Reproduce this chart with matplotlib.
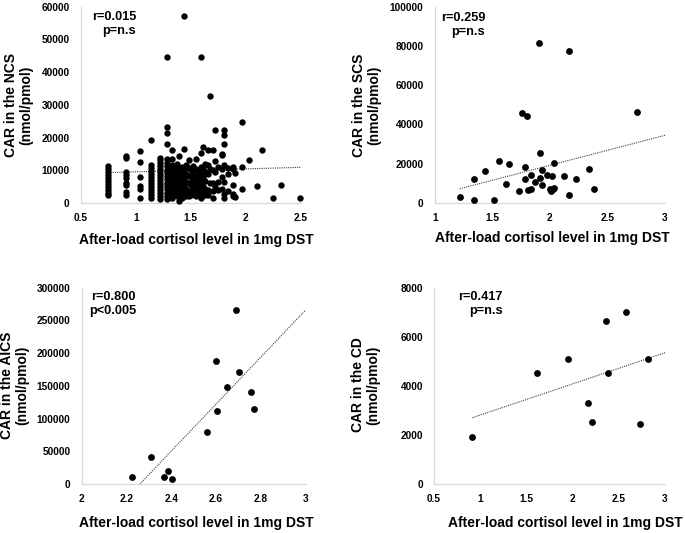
import matplotlib
matplotlib.use("Agg")
import matplotlib.pyplot as plt
import numpy as np

plt.rcParams['font.family'] = ['Liberation Sans', 'DejaVu Sans']
plt.rcParams['font.weight'] = 'bold'

# ---------------- NCS data (grouped by x column) ----------------
ncs_cols = {
    0.75: [11300, 10400, 9500, 8600, 7700, 6800, 5900, 5000, 4100, 3200, 2300],
    0.91: [14300, 13700, 9400, 8500, 7600, 6200, 5400, 3300, 2500],
    1.04: [15800, 12600, 8000, 5200, 4300, 1600],
    1.14: [19400, 11500, 10600, 9700, 8800, 7900, 7000, 6100, 5200, 4300, 3400, 2500, 1600],
    1.22: [13900, 13000, 12100, 11200, 10300, 9400, 8500, 7600, 6700, 5800, 4900, 4000, 3100, 2200, 1300],
    1.28: [44600, 23300, 21400, 18000, 13300, 12200, 11200, 10200, 9200, 8200, 7200, 6200, 5200, 4200, 3200, 2200, 1200],
    1.33: [16300, 13300, 11600, 10600, 9600, 8600, 7600, 6600, 5600, 4600, 3600, 2600, 1600],
    1.37: [12000, 11000, 10000, 9000, 8000, 7000, 6000, 5000, 4000, 3000, 2000],
    1.39: [14500, 10500, 8800, 7300, 5800, 4300, 2800, 500],
    1.42: [11000, 9600, 8200, 6800, 5400, 4000, 2600, 1500],
    1.44: [57200, 16500, 10200, 7500, 5000, 3000],
    1.46: [11500, 9000, 6500, 4200, 2200],
    1.48: [13200, 10600, 8300, 6000, 3800, 2000],
    1.50: [10000, 7800, 5600, 3400, 2500],
    1.52: [11200, 9100, 7000, 4900, 2700],
    1.55: [13500, 10500, 8200, 6200, 4000, 2100],
    1.57: [9800, 7300, 5200, 3100],
    1.59: [44600, 15300, 11000, 8500, 6000, 3800, 1500],
    1.61: [17000, 10300, 7800, 5100, 2800],
    1.63: [12000, 9500, 6800, 4300, 2500],
    1.66: [16100, 11700, 8900, 3900, 2400],
    1.67: [32700, 10500, 6200],
    1.70: [16300, 10100, 6000, 3600, 1500],
    1.72: [22400, 12700, 9500, 4800],
    1.75: [11100, 6500, 3900],
    1.78: [15100, 14600, 10400, 8000, 4200],
    1.80: [22200, 20700, 18000, 11700, 6400, 2900, 1500],
    1.84: [10600, 8800, 3700],
    1.88: [11100, 10300, 5600, 2900, 2100],
    1.90: [9100, 1900],
    1.96: [24700, 11100, 4300],
    2.03: [13000],
    2.10: [5200],
    2.15: [16300],
    2.25: [1500],
    2.32: [5600],
    2.49: [1500],
}
ncs_x = [x for x, ys in ncs_cols.items() for _ in ys]
ncs_y = [y for ys in ncs_cols.values() for y in ys]

# ---------------- SCS data ----------------
scs_x = [1.217, 1.342, 1.342, 1.440, 1.518, 1.556, 1.645, 1.619, 1.755, 1.799,
         1.781, 1.781, 1.735, 1.810, 1.834, 1.836, 1.868, 1.906, 1.918, 1.915,
         1.929, 1.932, 1.972, 2.001, 2.007, 2.016, 2.025, 2.039, 2.039, 2.123,
         2.164, 2.169, 2.224, 2.337, 2.384, 2.757]
scs_y = [2886, 12394, 1528, 16129, 1698, 21222, 19864, 9677, 45671, 44312,
         18166, 12054, 6112, 6621, 7300, 14431, 10866, 81324, 25297, 12564,
         16808, 8998, 14431, 7131, 6282, 13922, 7300, 7640, 20204, 13922,
         77589, 4075, 12054, 17317, 6961, 46520]

# ---------------- AICS data ----------------
aics_x = [2.226, 2.310, 2.369, 2.385, 2.405, 2.561, 2.598, 2.606, 2.647, 2.690,
          2.702, 2.756, 2.769]
aics_y = [10700, 40750, 11200, 20370, 7130, 78950, 187440, 112050, 148220, 265360,
          170630, 140070, 114090]

# ---------------- CD data ----------------
cd_x = [0.915, 1.615, 1.947, 2.163, 2.213, 2.365, 2.380, 2.578, 2.733, 2.816]
cd_y = [1903, 4536, 5081, 3313, 2539, 6643, 4536, 6997, 2457, 5094]

# trendline (slope, intercept)
ncs_fit = (914, 8614)
scs_fit = (15284, -11361)
aics_fit = (359324, -812072)
cd_fit = (1270, 1540)

# annotations
ncs_txt = "r=0.015\np=n.s"
scs_txt = "r=0.259\np=n.s"
aics_txt = "r=0.800\np<0.005"
cd_txt = "r=0.417\np=n.s"

# axis ticks
ncs_xticks = [0.5, 1, 1.5, 2, 2.5]
ncs_xlabels = ["0.5", "1", "1.5", "2", "2.5"]
ncs_yticks = [0, 10000, 20000, 30000, 40000, 50000, 60000]
scs_xticks = [1, 1.5, 2, 2.5, 3]
scs_xlabels = ["1", "1.5", "2", "2.5", "3"]
scs_yticks = [0, 20000, 40000, 60000, 80000, 100000]
aics_xticks = [2, 2.2, 2.4, 2.6, 2.8, 3]
aics_xlabels = ["2", "2.2", "2.4", "2.6", "2.8", "3"]
aics_yticks = [0, 50000, 100000, 150000, 200000, 250000, 300000]
cd_xticks = [0.5, 1, 1.5, 2, 2.5, 3]
cd_xlabels = ["0.5", "1", "1.5", "2", "2.5", "3"]
cd_yticks = [0, 2000, 4000, 6000, 8000]

xlabel_text = "After-load cortisol level in 1mg DST"

W, H = 685, 533
fig = plt.figure(figsize=(W / 100, H / 100), dpi=100)


def add_axes_px(left, top, right, bottom):
    return fig.add_axes([left / W, 1 - bottom / H, (right - left) / W, (bottom - top) / H])


panels = [
    dict(box=(80.7, 6.7, 301.0, 203.0), x=ncs_x, y=ncs_y, fit=ncs_fit,
         xlim=(0.5, 2.5), xt=ncs_xticks, xl=ncs_xlabels, yt=ncs_yticks,
         fit_end=2.5, txt=ncs_txt, txt_pos=(136, 11),
         ylab="CAR in the NCS\n(nmol/pmol)", ylab_pos=(18.5, 105), xlab_pos=(196, 240), s=21),
    dict(box=(434.7, 6.7, 665.0, 203.0), x=scs_x, y=scs_y, fit=scs_fit,
         xlim=(1, 3), xt=scs_xticks, xl=scs_xlabels, yt=scs_yticks,
         fit_end=3.0, txt=scs_txt, txt_pos=(485, 12),
         ylab="CAR in the SCS\n(nmol/pmol)", ylab_pos=(366.5, 105), xlab_pos=(552.5, 238), s=24),
    dict(box=(81.7, 287.7, 305.7, 484.0), x=aics_x, y=aics_y, fit=aics_fit,
         xlim=(2, 3), xt=aics_xticks, xl=aics_xlabels, yt=aics_yticks,
         fit_end=3.0, txt=aics_txt, txt_pos=(136, 291),
         ylab="CAR in the AICS\n(nmol/pmol)", ylab_pos=(15, 385), xlab_pos=(196.7, 523), s=24),
    dict(box=(434.0, 287.7, 665.0, 484.0), x=cd_x, y=cd_y, fit=cd_fit,
         xlim=(0.5, 3), xt=cd_xticks, xl=cd_xlabels, yt=cd_yticks,
         fit_end=3.0, txt=cd_txt, txt_pos=(502.7, 291),
         ylab="CAR in the CD\n(nmol/pmol)", ylab_pos=(366, 385), xlab_pos=(565.7, 523), s=24),
]

for p in panels:
    ax = add_axes_px(*p['box'])
    x = np.array(p['x'], dtype=float)
    y = np.array(p['y'], dtype=float)
    ax.scatter(x, y, s=p['s'], color='black', linewidths=0, zorder=3, clip_on=False)
    slope, icpt = p['fit']
    fx = np.array([x.min(), p['fit_end']])
    ax.plot(fx, slope * fx + icpt, color='#404040', lw=0.8,
            linestyle=(0, (1, 1)), zorder=2)
    ax.set_xlim(*p['xlim'])
    ax.set_ylim(p['yt'][0], p['yt'][-1])
    ax.set_xticks(p['xt'])
    ax.set_xticklabels(p['xl'])
    ax.set_yticks(p['yt'])
    ax.set_yticklabels([str(v) for v in p['yt']])
    ax.tick_params(length=0, labelsize=7.3, pad=8)
    ax.tick_params(axis='x', pad=7)
    for lbl in ax.get_xticklabels() + ax.get_yticklabels():
        lbl.set_fontweight('bold')
    for side in ['top', 'right']:
        ax.spines[side].set_visible(False)
    for side in ['left', 'bottom']:
        ax.spines[side].set_color('#d9d9d9')
        ax.spines[side].set_linewidth(0.9)
    ax.patch.set_alpha(0)
    tx, ty = p['txt_pos']
    fig.text(tx / W, 1 - ty / H, p['txt'], ha='right', va='top', fontsize=9.2,
             fontweight='bold', multialignment='right', linespacing=1.25)
    lx, ly = p['ylab_pos']
    fig.text(lx / W, 1 - ly / H, p['ylab'], rotation=90, ha='center', va='center',
             fontsize=10, fontweight='bold', multialignment='center', linespacing=1.1)
    xx, xy = p['xlab_pos']
    fig.text(xx / W, 1 - xy / H, xlabel_text, ha='center', va='center',
             fontsize=10, fontweight='bold')

fig.savefig("out.png", dpi=100)
